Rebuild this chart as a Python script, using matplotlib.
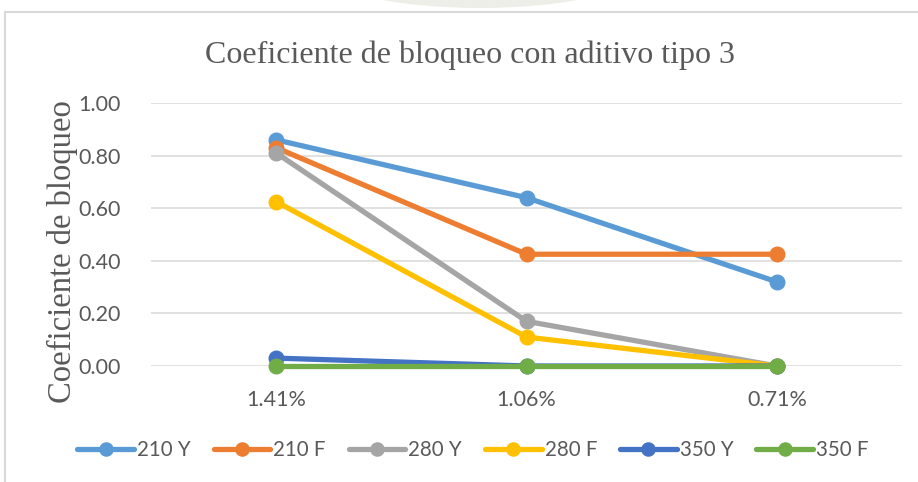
import matplotlib.pyplot as plt
from matplotlib.patches import Rectangle, Ellipse

# porcentaje de aditivo y coeficiente de bloqueo por serie
categorias = ["1.41%", "1.06%", "0.71%"]
series = ["210 Y", "210 F", "280 Y", "280 F", "350 Y", "350 F"]
v_210_y = [0.86, 0.64, 0.32]
v_210_f = [0.83, 0.425, 0.425]
v_280_y = [0.81, 0.17, 0.0]
v_280_f = [0.625, 0.11, 0.0]
v_350_y = [0.03, 0.0, 0.0]
v_350_f = [0.0, 0.0, 0.0]
valores = [v_210_y, v_210_f, v_280_y, v_280_f, v_350_y, v_350_f]

colores = ["#5B9BD5", "#ED7D31", "#A5A5A5", "#FFC000", "#4472C4", "#70AD47"]
gris = "#595959"
sans = ["Lato", "DejaVu Sans"]
serif = ["Liberation Serif", "DejaVu Serif"]

W, H = 918, 482
fig = plt.figure(figsize=(W / 100, H / 100), dpi=100)

# marca de agua tenue y marco del grafico
fig.patches.append(Ellipse((480 / W, 1 - (-28) / H), 310 / W, 72 / H,
                           transform=fig.transFigure, facecolor="#eeeee8",
                           edgecolor="none", zorder=0))
fig.patches.append(Rectangle((5 / W, -0.1), 1.2, 1 - 12 / H + 0.1,
                             transform=fig.transFigure, facecolor="none",
                             edgecolor="#d9d9d9", linewidth=1.5, zorder=1))

ax = fig.add_axes([151 / W, 1 - 366 / H, 751 / W, 263 / H])
ax.set_zorder(2)
ax.set_facecolor("none")
x = list(range(len(categorias)))
for nombre, v, c in zip(series, valores, colores):
    ax.plot(x, v, color=c, linewidth=3.8, marker="o", markersize=10.5,
            label=nombre, solid_capstyle="round", clip_on=False, zorder=3)

ax.set_xlim(-0.5, 2.5)
ax.set_ylim(0, 1.0)
ax.set_yticks([0, 0.2, 0.4, 0.6, 0.8, 1.0])
ax.set_yticklabels([f"{t:.2f}" for t in ax.get_yticks()])
ax.set_xticks(x)
ax.set_xticklabels(categorias)
ax.grid(axis="y", color="#d9d9d9", linewidth=1.1)
ax.set_axisbelow(True)
for s in ax.spines.values():
    s.set_visible(False)
ax.tick_params(length=0, colors=gris, labelsize=15.5)
ax.tick_params(axis="y", pad=22)
ax.tick_params(axis="x", pad=17)
for t in ax.get_xticklabels() + ax.get_yticklabels():
    t.set_family(sans)

fig.text(470 / W, 1 - 55 / H, "Coeficiente de bloqueo con aditivo tipo 3",
         ha="center", va="center", family=serif, fontsize=23, color=gris)
fig.text(62 / W, 1 - 252 / H, "Coeficiente de bloqueo", rotation=90,
         ha="center", va="center", family=serif, fontsize=23.5, color=gris)

fig.legend(loc="center", bbox_to_anchor=(473 / W, 1 - 450 / H), ncol=6,
           frameon=False, prop={"family": sans, "size": 14.8},
           labelcolor=gris, handlelength=2.75, handletextpad=0.15,
           columnspacing=1.12, markerscale=0.9)

fig.savefig("out.png", dpi=100)
